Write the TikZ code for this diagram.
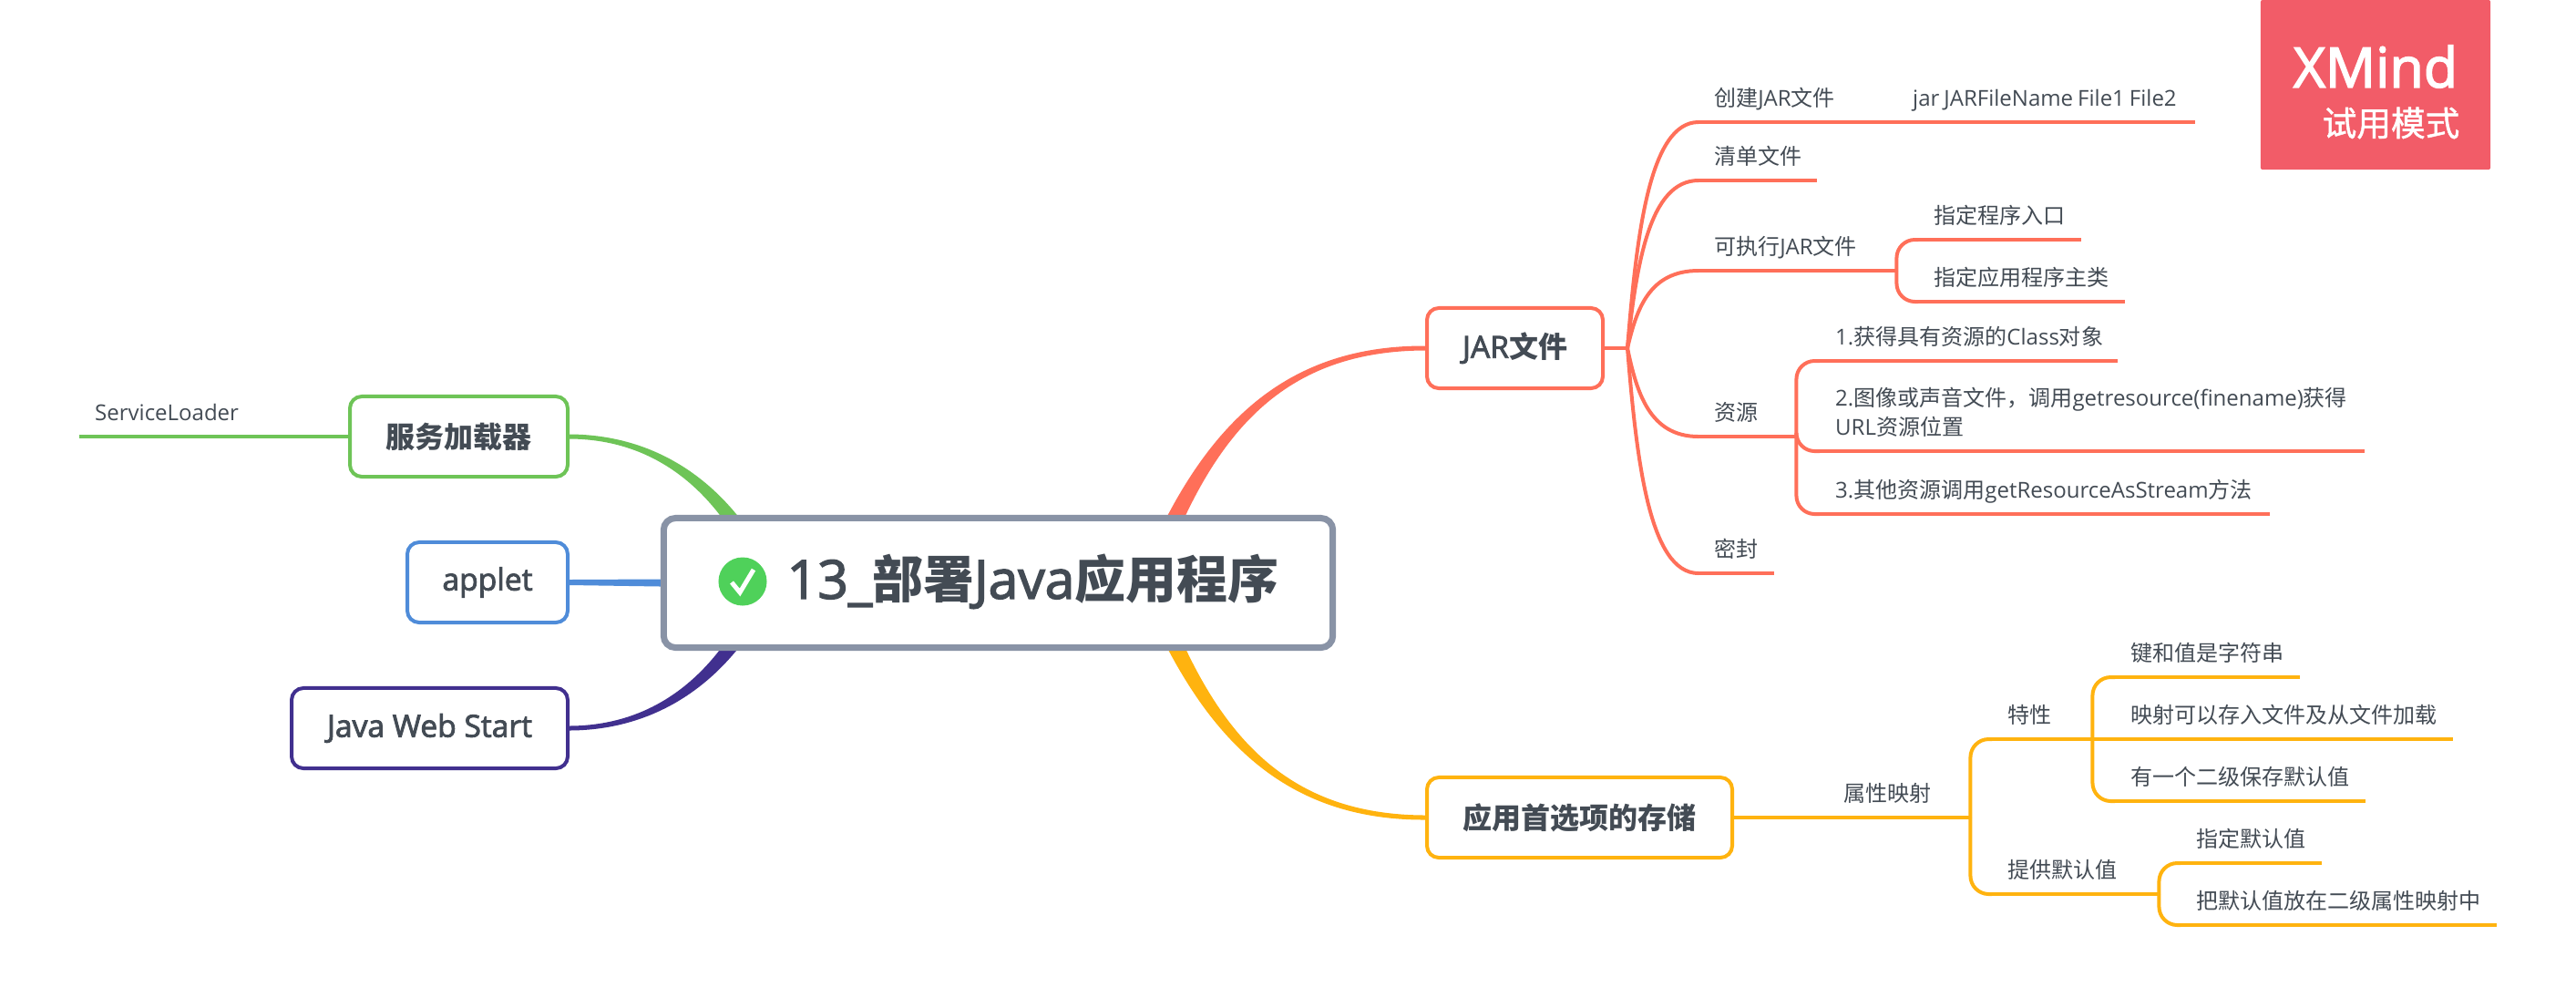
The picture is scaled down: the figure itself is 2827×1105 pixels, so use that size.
\documentclass[tikz,border=0pt]{standalone}
\usepackage{fontspec}
\usepackage{xcolor}
\usetikzlibrary{backgrounds}
\setmainfont{Open Sans}
\newfontfamily\semi[FakeBold=2.5,Scale=1.05]{Open Sans}
\newfontfamily\cjk{Noto Sans CJK SC}
\newfontfamily\cjkmed[FakeBold=1.2]{Noto Sans CJK SC}
\newcommand{\zh}[1]{{\cjk #1}}
\newcommand{\zhb}[1]{{\cjk\bfseries #1}}
\definecolor{ink}{HTML}{434B54}
\definecolor{rootgray}{HTML}{8993A6}
\definecolor{jarred}{HTML}{FF6F59}
\definecolor{prefamber}{HTML}{FFB30F}
\definecolor{svcgreen}{HTML}{6EC457}
\definecolor{appletblue}{HTML}{4F8CD9}
\definecolor{webpurple}{HTML}{41308F}
\definecolor{trialred}{HTML}{F25C68}
\definecolor{okgreen}{HTML}{4FD15A}

\begin{document}
\begin{tikzpicture}[
  x=0.01cm,y=-0.01cm,
  rootbox/.style={draw=rootgray,fill=white,line width=.07cm,rounded corners=.13cm,minimum width=7.34cm,minimum height=1.42cm,inner sep=0pt},
  topic/.style={draw,fill=white,line width=.04cm,rounded corners=.13cm,minimum width={(#1+2)*0.01cm},minimum height=.88cm,inner sep=0pt,text=ink,font=\fontsize{9.1}{11}\selectfont\semi},
  leaf/.style={anchor=south west,text=ink,align=left,text width={(#1-33)*0.01cm},inner xsep=.165cm,inner ysep=.13cm,text depth=.04cm,font=\fontsize{6.83}{9.1}\selectfont},
  stem/.style={line width=.04cm},
  under/.style={line width=.045cm}
]
  % Page and badge
  \useasboundingbox (0,0) rectangle (2827,1105);
  \node[fill=trialred,rounded corners=.02cm,minimum width=2.52cm,minimum height=1.86cm,inner sep=0pt] (badge) at (2607,93) {};
  \node[text=white,inner sep=0pt,font=\fontsize{16.5}{18}\selectfont\semi] (badgename) at (2607,73) {XMind};
  \node[text=white,inner sep=0pt,font=\fontsize{10.7}{13}\selectfont] (badgemode) at (2624,135) {{\cjkmed 试用模式}};

  % Root
  \node[rootbox] (root) at (1095.5,639.5) {};
  \node[circle,fill=okgreen,minimum size=.53cm,inner sep=0pt] (icon) at (815,638) {};
  \draw[white,line width=.05cm] (803,639) -- (812,650) -- (827,625);
  \node[anchor=west,text=ink,inner sep=0pt,font=\fontsize{15.9}{18}\selectfont\semi] (title) at (863,638) {13\_\zhb{部署}Java\zhb{应用程序}};

  % Topics
  \node[topic=191,draw=jarred] (jar) at (1662.5,382) {JAR\zhb{文件}};
  \node[topic=333,draw=prefamber] (pref) at (1733.5,897) {\zhb{应用首选项的存储}};
  \node[topic=237,draw=svcgreen] (service) at (503.5,479) {\zhb{服务加载器}};
  \node[topic=174,draw=appletblue] (applet) at (535,639) {applet};
  \node[topic=301,draw=webpurple] (web) at (471.5,799) {Java Web Start};

  % JAR leaves
  \node[leaf=165] (jarcreate) at (1864,134) {\zh{创建}JAR\zh{文件}};
  \node[leaf=326] (jarcmd) at (2082,134) {\mbox{\spaceskip=.05cm jar JARFileName File1 File2}};
  \node[leaf=129] (jarlist) at (1864,198) {\zh{清单文件}};
  \node[leaf=216] (jarexec) at (1864,297) {\zh{可执行}JAR\zh{文件}};
  \node[leaf=178] (execentry) at (2105,263) {\zh{指定程序入口}};
  \node[leaf=226] (execmain) at (2105,331) {\zh{指定应用程序主类}};
  \node[leaf=106] (jarres) at (1864,479) {\zh{资源}};
  \node[leaf=326] (resclass) at (1997,396) {1.\zh{获得具有资源的}Class\zh{对象}};
  \node[leaf=597,text depth=.36cm] (resimage) at (1997,495) {2.\zh{图像或声音文件，调用}getresource(finename)\zh{获得}\\URL\zh{资源位置}};
  \node[leaf=493] (resstream) at (1997,564) {3.\zh{其他资源调用}getResourceAsStream\zh{方法}};
  \node[leaf=82] (jarseal) at (1864,629) {\zh{密封}};
  \coordinate (jarjoint) at (1786,382);

  % Preference leaves
  \node[leaf=155] (propmap) at (2006,897) {\zh{属性映射}};
  \node[leaf=109] (feat) at (2186,811) {\zh{特性}};
  \node[leaf=182] (deflt) at (2186,981) {\zh{提供默认值}};
  \node[leaf=202] (featstr) at (2321,743) {\zh{键和值是字符串}};
  \node[leaf=370] (featfile) at (2321,811) {\zh{映射可以存入文件及从文件加载}};
  \node[leaf=274] (featsec) at (2321,879) {\zh{有一个二级保存默认值}};
  \node[leaf=154] (defset) at (2393,947) {\zh{指定默认值}};
  \node[leaf=346] (defput) at (2393,1015) {\zh{把默认值放在二级属性映射中}};

  % Service leaf
  \node[leaf=296] (svcload) at (87,479) {ServiceLoader};

  % Underlines
  \foreach \n in {jarcreate,jarcmd,jarlist,jarexec,execentry,execmain,jarres,resclass,resimage,resstream,jarseal}
    \draw[under,jarred] (\n.south west) -- (\n.south east);
  \foreach \n in {propmap,feat,deflt,featstr,featfile,featsec,defset,defput}
    \draw[under,prefamber] (\n.south west) -- (\n.south east);
  \draw[under,svcgreen] (svcload.south west) -- (service.west);

  % JAR connectors
  \draw[stem,jarred] (jar.east) -- (jarjoint);
  \draw[stem,jarred] (jarjoint) .. controls (1796,258) and (1810,134) .. (jarcreate.south west);
  \draw[stem,jarred] (jarjoint) .. controls (1796,290) and (1810,198) .. (jarlist.south west);
  \draw[stem,jarred] (jarjoint) .. controls (1796,339) and (1810,297) .. (jarexec.south west);
  \draw[stem,jarred] (jarjoint) .. controls (1796,430) and (1810,479) .. (jarres.south west);
  \draw[stem,jarred] (jarjoint) .. controls (1796,505) and (1810,629) .. (jarseal.south west);
  \draw[stem,jarred] (jarcreate.south east) -- (jarcmd.south west);
  \draw[stem,jarred,rounded corners=.2cm] (jarexec.south east) |- (execentry.south west);
  \draw[stem,jarred,rounded corners=.2cm] (jarexec.south east) |- (execmain.south west);
  \draw[stem,jarred,rounded corners=.2cm] (jarres.south east) |- (resclass.south west);
  \draw[stem,jarred,rounded corners=.2cm] (jarres.south east) |- (resimage.south west);
  \draw[stem,jarred,rounded corners=.2cm] (jarres.south east) |- (resstream.south west);

  % Preference connectors
  \draw[stem,prefamber] (pref.east) -- (propmap.south west);
  \draw[stem,prefamber,rounded corners=.2cm] (propmap.south east) |- (feat.south west);
  \draw[stem,prefamber,rounded corners=.2cm] (propmap.south east) |- (deflt.south west);
  \draw[stem,prefamber,rounded corners=.2cm] (feat.south east) |- (featstr.south west);
  \draw[stem,prefamber] (feat.south east) -- (featfile.south west);
  \draw[stem,prefamber,rounded corners=.2cm] (feat.south east) |- (featsec.south west);
  \draw[stem,prefamber,rounded corners=.2cm] (deflt.south east) |- (defset.south west);
  \draw[stem,prefamber,rounded corners=.2cm] (deflt.south east) |- (defput.south west);

  % Main branches
  \begin{pgfonlayer}{background}
    \fill[white] (0,0) rectangle (2827,1105);
    \fill[jarred] ([yshift=.025cm]jar.west) .. controls (1400,379) and (1313,478) .. (1248,638) -- (1271,638) .. controls (1328,482) and (1402,385) .. ([yshift=-.025cm]jar.west) -- cycle;
    \fill[prefamber] ([yshift=-.025cm]pref.west) .. controls (1400,900) and (1313,799) .. (1248,639) -- (1271,639) .. controls (1328,795) and (1402,894) .. ([yshift=.025cm]pref.west) -- cycle;
    \fill[svcgreen] ([yshift=.025cm]service.east) .. controls (735,477) and (812,545) .. (853,638) -- (832,638) .. controls (792,545) and (725,482) .. ([yshift=-.025cm]service.east) -- cycle;
    \fill[webpurple] ([yshift=-.025cm]web.east) .. controls (735,801) and (812,733) .. (853,640) -- (832,640) .. controls (792,733) and (725,796) .. ([yshift=.025cm]web.east) -- cycle;
    \fill[appletblue] ([yshift=.03cm]applet.east) -- ([yshift=.04cm]root.west) -- ([yshift=-.04cm]root.west) -- ([yshift=-.03cm]applet.east) -- cycle;
  \end{pgfonlayer}
\end{tikzpicture}
\end{document}
